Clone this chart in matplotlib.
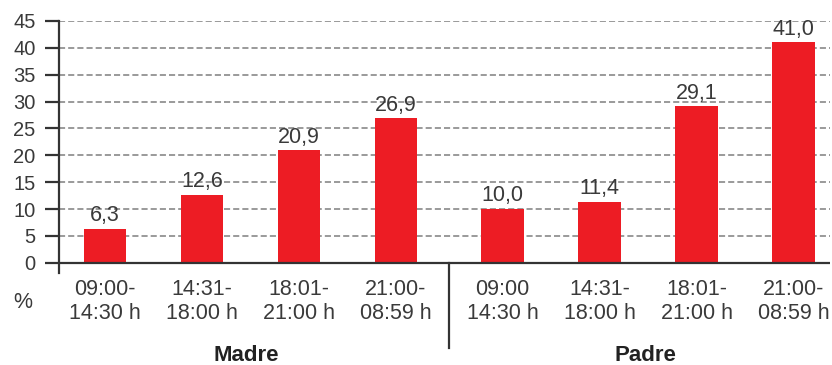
import matplotlib.pyplot as plt

plt.rcParams['font.family'] = ['Liberation Sans', 'DejaVu Sans']

franjas_madre = ["09:00-\n14:30 h", "14:31-\n18:00 h", "18:01-\n21:00 h", "21:00-\n08:59 h"]
franjas_padre = ["09:00\n14:30 h", "14:31-\n18:00 h", "18:01-\n21:00 h", "21:00-\n08:59 h"]
madre = [6.3, 12.6, 20.9, 26.9]
padre = [10.0, 11.4, 29.1, 41.0]
grupos = ["Madre", "Padre"]

ROJO = "#ED1C24"
TEXTO = "#3a3a3a"
FS = 15.5

pos = [0, 1, 2, 3, 4.1, 5.1, 6.1, 7.1]
valores = madre + padre
etiquetas = franjas_madre + franjas_padre

fig = plt.figure(figsize=(8.32, 3.65), dpi=100)
ax = fig.add_axes([59 / 832, (365 - 273) / 365, 771 / 832, (273 - 21) / 365])

ax.bar(pos, valores, width=0.44, color=ROJO, zorder=3)
for x, v in zip(pos, valores):
    ax.text(x, v + 0.5, f"{v:.1f}".replace(".", ","), ha="center", va="bottom",
            fontsize=FS, color=TEXTO)

ax.set_xlim(-0.474, 7.474)
ax.set_ylim(-1.9, 45)
ax.set_yticks(range(0, 50, 5))
for y in range(5, 50, 5):
    ax.axhline(y, color="#7f7f7f", lw=1.1, ls=(0, (4, 2)), zorder=1)
ax.axhline(0, color="#333333", lw=1.6, zorder=4)

for s in ["top", "right", "bottom"]:
    ax.spines[s].set_visible(False)
ax.spines["left"].set_color("#333333")
ax.spines["left"].set_linewidth(1.6)
ax.tick_params(axis="y", length=10, width=1.6, color="#333333", labelsize=14.5,
               labelcolor=TEXTO, pad=7)

ax.set_xticks(pos)
ax.set_xticklabels(etiquetas, linespacing=1.2)
ax.tick_params(axis="x", length=0, labelsize=FS, labelcolor=TEXTO, pad=4)

# separador entre madre y padre
ax.plot([3.55, 3.55], [0, -15.8], color="#333333", lw=1.6, clip_on=False)

ax.text(-0.85, -7.3, "%", ha="center", va="center", fontsize=FS, color=TEXTO)
ax.text(1.46, -17.3, grupos[0], ha="center", va="center", fontsize=16,
        fontweight="bold", color="#222222")
ax.text(5.57, -17.3, grupos[1], ha="center", va="center", fontsize=16,
        fontweight="bold", color="#222222")

fig.savefig("out.png", dpi=100)
